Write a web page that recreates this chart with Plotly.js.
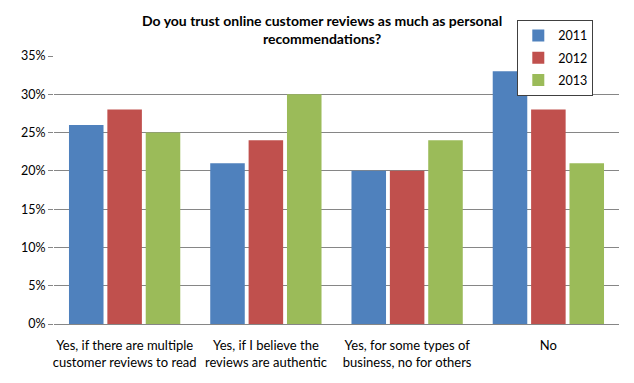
<!DOCTYPE html>
<html><head><meta charset="utf-8">
<script src="https://cdn.plot.ly/plotly-3.0.1.min.js"></script>
<style>body{margin:0;}#c{width:634px;height:383px;}</style>
</head><body><div id="c"></div>
<script>
const categories = ["Yes, if there are multiple<br>customer reviews to read","Yes, if I believe the<br>reviews are authentic","Yes, for some types of<br>business, no for others","No"];
const y2011 = [0.26, 0.21, 0.20, 0.33];
const y2012 = [0.28, 0.24, 0.20, 0.28];
const y2013 = [0.25, 0.30, 0.24, 0.21];
const seriesNames = ["2011","2012","2013"];
const colors = ["#4F81BD","#C0504D","#9BBB59"];
const vals = [y2011, y2012, y2013];
const font = "Lato, 'Liberation Sans', sans-serif";
const traces = vals.map((v,i)=>({type:'bar',x:categories,y:v,name:seriesNames[i],marker:{color:colors[i]},legendgroup:'g'+i}));
const layout = {
  width:634,height:383,
  margin:{l:54,r:15,t:56,b:59},
  paper_bgcolor:'#fff',plot_bgcolor:'#fff',
  font:{family:font,size:12,color:'#000'},
  title:{text:"<b>Do you trust online customer reviews as much as personal<br>recommendations?</b>",x:0.508,xanchor:'center',yref:'container',y:0.932,yanchor:'middle',font:{family:font,size:14,color:'#000'}},
  barmode:'group',bargap:0.185,bargroupgap:0.1,
  xaxis:{showline:true,linecolor:'#868686',linewidth:1,ticks:'',ticklabelstandoff:9,tickfont:{size:13,color:'#000'},showgrid:false},
  yaxis:{range:[0,0.35],dtick:0.05,tickformat:'.0%',showgrid:true,gridcolor:'#868686',gridwidth:1,ticks:'outside',ticklen:5,tickcolor:'#868686',zeroline:false,tickfont:{size:12.5,color:'#000'},showline:false},
  showlegend:true,
  legend:{x:0.82,xanchor:'left',y:1.135,yanchor:'top',bgcolor:'#fff',bordercolor:'#404040',borderwidth:1,traceorder:'grouped',tracegroupgap:3,font:{size:12.5,color:'#000'},itemwidth:30}
};
Plotly.newPlot('c',traces,layout,{displayModeBar:false});
</script></body></html>
